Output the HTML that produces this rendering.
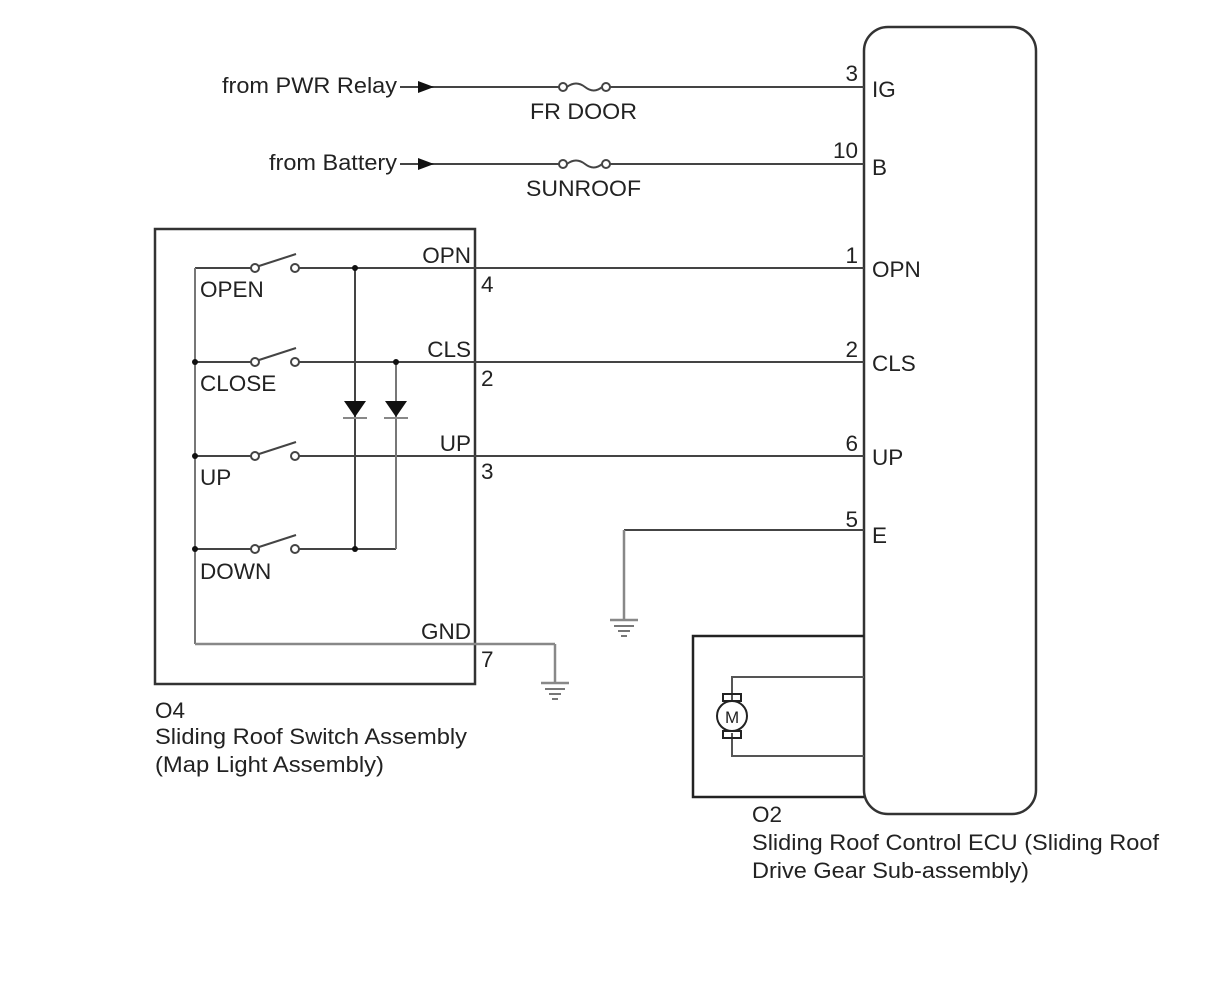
<!DOCTYPE html>
<html><head><meta charset="utf-8"><style>
html,body{margin:0;padding:0;background:#fff;}
svg{display:block;}
text{font-family:"Liberation Sans",Arial,sans-serif;fill:#222;font-size:22.5px;}
</style></head><body>
<svg width="1210" height="986" viewBox="0 0 1210 986" xmlns="http://www.w3.org/2000/svg">
<g stroke="#444" stroke-width="2" fill="none">
<rect x="864" y="27" width="172" height="787" rx="24" ry="24" stroke="#333" stroke-width="2.5"/>
<line x1="400" y1="87" x2="560" y2="87"/>
<line x1="609" y1="87" x2="864" y2="87"/>
<line x1="400" y1="164" x2="560" y2="164"/>
<line x1="609" y1="164" x2="864" y2="164"/>
<circle cx="563" cy="87" r="4"/><circle cx="606" cy="87" r="4"/>
<path d="M567 87 Q576 80 585 87 Q594 94 602 87"/>
<circle cx="563" cy="164" r="4"/><circle cx="606" cy="164" r="4"/>
<path d="M567 164 Q576 157 585 164 Q594 171 602 164"/>
<rect x="155" y="229" width="320" height="455" stroke="#333" stroke-width="2.5"/>
<line x1="195" y1="268" x2="251" y2="268"/>
<line x1="299" y1="268" x2="864" y2="268"/>
<line x1="195" y1="362" x2="251" y2="362"/>
<line x1="299" y1="362" x2="864" y2="362"/>
<line x1="195" y1="456" x2="251" y2="456"/>
<line x1="299" y1="456" x2="864" y2="456"/>
<line x1="195" y1="549" x2="251" y2="549"/>
<line x1="299" y1="549" x2="396" y2="549"/>
<line x1="195" y1="268" x2="195" y2="644" stroke="#777"/>
<line x1="195" y1="644" x2="555" y2="644" stroke="#888" stroke-width="2.5"/>
<line x1="555" y1="644" x2="555" y2="683" stroke="#888" stroke-width="2.5"/>
<line x1="355" y1="268" x2="355" y2="549"/>
<line x1="396" y1="362" x2="396" y2="549" stroke="#777"/>
<g>
<circle cx="255" cy="268" r="4"/><circle cx="295" cy="268" r="4"/><line x1="259" y1="266" x2="296" y2="254"/>
<circle cx="255" cy="362" r="4"/><circle cx="295" cy="362" r="4"/><line x1="259" y1="360" x2="296" y2="348"/>
<circle cx="255" cy="456" r="4"/><circle cx="295" cy="456" r="4"/><line x1="259" y1="454" x2="296" y2="442"/>
<circle cx="255" cy="549" r="4"/><circle cx="295" cy="549" r="4"/><line x1="259" y1="547" x2="296" y2="535"/>
</g>
<line x1="343" y1="418" x2="367" y2="418" stroke="#888"/>
<line x1="384" y1="418" x2="408" y2="418" stroke="#888"/>
<line x1="864" y1="530" x2="624" y2="530"/>
<line x1="624" y1="530" x2="624" y2="620" stroke="#888" stroke-width="2.5"/>
<line x1="610" y1="620" x2="638" y2="620" stroke="#888" stroke-width="2.5"/>
<line x1="614" y1="626" x2="634" y2="626" stroke="#777"/>
<line x1="618" y1="631" x2="630" y2="631" stroke="#777"/>
<line x1="621" y1="636" x2="627" y2="636" stroke="#777"/>
<line x1="541" y1="683" x2="569" y2="683" stroke="#888" stroke-width="2.5"/>
<line x1="545" y1="689" x2="565" y2="689" stroke="#777"/>
<line x1="549" y1="694" x2="561" y2="694" stroke="#777"/>
<line x1="552" y1="699" x2="558" y2="699" stroke="#777"/>
<polyline points="864,636 693,636 693,797 864,797" stroke="#222" stroke-width="2.5"/>
<polyline points="864,677 732,677 732,700" stroke="#555"/>
<polyline points="864,756 732,756 732,733" stroke="#555"/>
<rect x="723" y="694" width="18" height="7" stroke="#222"/>
<rect x="723" y="731" width="18" height="7" stroke="#222"/>
<circle cx="732" cy="716" r="15" fill="#fff" stroke="#222"/>
</g>
<polygon points="418,81 434,87 418,93" fill="#111"/>
<polygon points="418,158 434,164 418,170" fill="#111"/>
<polygon points="344,401 366,401 355,417" fill="#111"/>
<polygon points="385,401 407,401 396,417" fill="#111"/>
<g fill="#111">
<circle cx="355" cy="268" r="3"/><circle cx="195" cy="362" r="3"/><circle cx="396" cy="362" r="3"/>
<circle cx="195" cy="456" r="3"/><circle cx="195" cy="549" r="3"/><circle cx="355" cy="549" r="3"/>
</g>
<text x="725" y="723" font-size="17" fill="#444" style="font-size:17px">M</text>
<text x="397" y="93" text-anchor="end" textLength="175" lengthAdjust="spacingAndGlyphs">from PWR Relay</text>
<text x="397" y="170" text-anchor="end" textLength="128" lengthAdjust="spacingAndGlyphs">from Battery</text>
<text x="530" y="119" textLength="107" lengthAdjust="spacingAndGlyphs">FR DOOR</text>
<text x="526" y="196" textLength="115" lengthAdjust="spacingAndGlyphs">SUNROOF</text>
<text x="858" y="81" text-anchor="end">3</text>
<text x="872" y="97">IG</text>
<text x="858" y="158" text-anchor="end">10</text>
<text x="872" y="175">B</text>
<text x="858" y="263" text-anchor="end">1</text>
<text x="872" y="277">OPN</text>
<text x="858" y="357" text-anchor="end">2</text>
<text x="872" y="371">CLS</text>
<text x="858" y="451" text-anchor="end">6</text>
<text x="872" y="465">UP</text>
<text x="858" y="527" text-anchor="end">5</text>
<text x="872" y="543">E</text>
<text x="471" y="263" text-anchor="end">OPN</text>
<text x="481" y="292">4</text>
<text x="471" y="357" text-anchor="end">CLS</text>
<text x="481" y="386">2</text>
<text x="471" y="451" text-anchor="end">UP</text>
<text x="481" y="479">3</text>
<text x="471" y="639" text-anchor="end">GND</text>
<text x="481" y="667">7</text>
<text x="200" y="297">OPEN</text>
<text x="200" y="391">CLOSE</text>
<text x="200" y="485">UP</text>
<text x="200" y="579">DOWN</text>
<text x="155" y="718">O4</text>
<text x="155" y="744" textLength="312" lengthAdjust="spacingAndGlyphs">Sliding Roof Switch Assembly</text>
<text x="155" y="772" textLength="229" lengthAdjust="spacingAndGlyphs">(Map Light Assembly)</text>
<text x="752" y="822">O2</text>
<text x="752" y="850" textLength="407" lengthAdjust="spacingAndGlyphs">Sliding Roof Control ECU (Sliding Roof</text>
<text x="752" y="878" textLength="277" lengthAdjust="spacingAndGlyphs">Drive Gear Sub-assembly)</text>
</svg>
</body></html>
